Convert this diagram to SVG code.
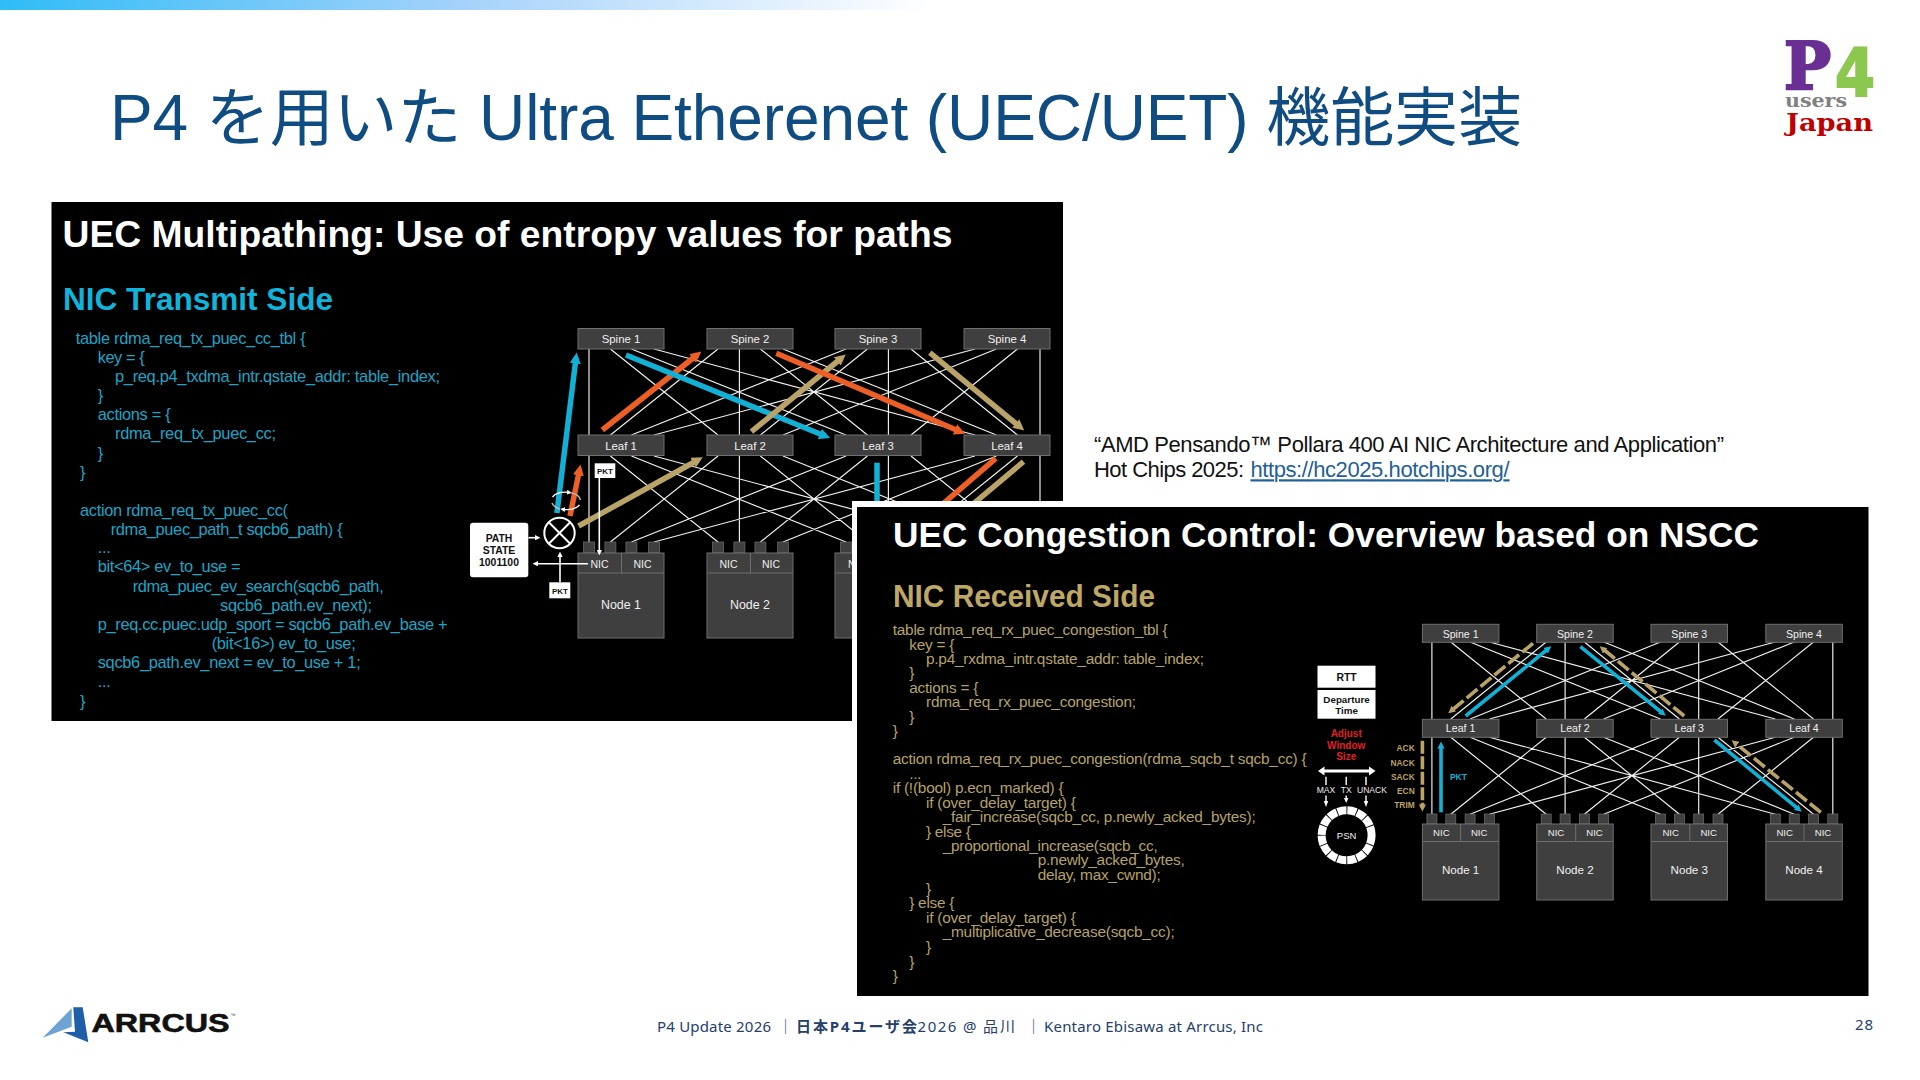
<svg xmlns="http://www.w3.org/2000/svg" width="1920" height="1080" viewBox="0 0 1920 1080">
<style>
text{font-family:"Liberation Sans",Arial,"Noto Sans CJK JP",sans-serif}
.h{fill:#fff;font-weight:700}
.cy{fill:#1ba6c6;font-size:16.4px}
.ta{fill:#b5a26a;font-size:15.4px}
.box{fill:#3f3f3f;stroke:#6f6f6f;stroke-width:1}
.port{fill:#3f3f3f;stroke:#6f6f6f;stroke-width:.7}
.lb{fill:#f0f0f0;text-anchor:middle}
.s1{font-size:11.4px}.n1{font-size:12.4px}.c1{font-size:10.5px}
.s2{font-size:10.6px}.n2{font-size:11.6px}.c2{font-size:9.6px}
.wb{fill:#fff}
.bk{fill:#111;font-weight:700;text-anchor:middle}
.net{fill:none;stroke:#f2f2f2;stroke-width:1.15}
.ac{stroke:#12b0d4;stroke-width:5.5;fill:none}
.ao{stroke:#ee5f25;stroke-width:5.5;fill:none}
.at{stroke:#b9a368;stroke-width:5.5;fill:none}
.thin{stroke-width:3.6px}
.wl{stroke:#fff;stroke-width:1.6;fill:none}
.wa{stroke:#fff;stroke-width:1.4;fill:none}
.lt{fill:#b9a368;font-size:8.4px;font-weight:700;text-anchor:end}
.ft{fill:#24406b;font-family:"Noto Sans","Noto Sans CJK JP",sans-serif;font-size:15px}
.rd{fill:#e0202a;font-size:10px;font-weight:700;text-anchor:middle}
.wt{fill:#eee;font-size:8.6px;text-anchor:middle}
</style>
<defs>
<linearGradient id="bar" x1="0" x2="1" y1="0" y2="0"><stop offset="0" stop-color="#2fbcf6"/><stop offset=".5" stop-color="#a5d2fb"/><stop offset="1" stop-color="#fff"/></linearGradient>
<marker id="mc" viewBox="0 0 10 10" refX="5" refY="5" markerWidth="2" markerHeight="2" orient="auto"><path d="M0 0L10 5L0 10Z" fill="#12b0d4"/></marker>
<marker id="mo" viewBox="0 0 10 10" refX="5" refY="5" markerWidth="2" markerHeight="2" orient="auto"><path d="M0 0L10 5L0 10Z" fill="#ee5f25"/></marker>
<marker id="mt" viewBox="0 0 10 10" refX="5" refY="5" markerWidth="2" markerHeight="2" orient="auto"><path d="M0 0L10 5L0 10Z" fill="#b9a368"/></marker>
<marker id="mw" viewBox="0 0 10 10" refX="2" refY="5" markerWidth="3.4" markerHeight="3.4" orient="auto"><path d="M0 0L10 5L0 10Z" fill="#fff"/></marker>
<path id="meshL" d="M589 0V86M610.4 0L718 86M631.4 0L846 86M654 0L975 86M718 0L610.4 86M739.4 0V86M760.4 0L867.4 86M783 0L996.4 86M846 0L631.4 86M867.4 0L760.4 86M888.4 0V86M911 0L1017.4 86M975 0L654 86M996.4 0L783 86M1017.4 0L911 86M1040 0V86"/>
<path id="meshR" d="M1431.9 0V77M1450.8 0L1546.2 77M1470.1 0L1660.5 77M1489.4 0L1775.3 77M1546.2 0L1450.8 77M1565.1 0V77M1584.4 0L1679.4 77M1603.7 0L1794.2 77M1660.5 0L1470.1 77M1679.4 0L1584.4 77M1698.7 0V77M1718 0L1813.5 77M1775.3 0L1489.4 77M1794.2 0L1603.7 77M1813.5 0L1718 77M1832.8 0V77"/>
<g id="portsL"><rect class="port" x="0" y="0" width="11" height="11"/><rect class="port" x="21.4" y="0" width="11" height="11"/><rect class="port" x="42.4" y="0" width="11" height="11"/><rect class="port" x="65" y="0" width="11" height="11"/></g>
<g id="portsR"><rect class="port" x="0" y="0" width="10" height="10"/><rect class="port" x="18.9" y="0" width="10" height="10"/><rect class="port" x="38.2" y="0" width="10" height="10"/><rect class="port" x="57.5" y="0" width="10" height="10"/></g>
</defs>
<rect width="1920" height="1080" fill="#fff"/>
<rect id="topbar" x="0" y="0" width="930" height="10" fill="url(#bar)"/>
<text id="title" x="110" y="140" font-size="64" fill="#0f4c81" textLength="1412">P4 を用いた Ultra Etherenet (UEC/UET) 機能実装</text>

<g id="logo-p4">
<text x="1784" y="89" font-size="66" font-weight="700" fill="#6a2f92" stroke="#6a2f92" stroke-width="2.5" style="font-family:'DejaVu Serif',serif" textLength="47" lengthAdjust="spacingAndGlyphs">P</text>
<text x="1835" y="96" font-size="66" font-weight="700" fill="#8cc850" stroke="#8cc850" stroke-width="2" style="font-family:'DejaVu Sans',sans-serif" textLength="40" lengthAdjust="spacingAndGlyphs">4</text>
<text x="1785" y="106.5" font-size="19" font-weight="700" fill="#808080" style="font-family:'DejaVu Serif',serif" textLength="62" lengthAdjust="spacingAndGlyphs">users</text>
<text x="1786" y="131" font-size="24" font-weight="700" fill="#c00000" style="font-family:'DejaVu Serif',serif" textLength="87" lengthAdjust="spacingAndGlyphs">Japan</text>
</g>

<g id="panel-tx">
<rect x="51.5" y="202" width="1011.5" height="519" fill="#000"/>
<text class="h" x="62.5" y="247" font-size="37.5" textLength="890" lengthAdjust="spacingAndGlyphs">UEC Multipathing: Use of entropy values for paths</text>
<text x="63" y="310" font-size="31.5" font-weight="700" fill="#10b4da" textLength="270" lengthAdjust="spacingAndGlyphs">NIC Transmit Side</text>
<g class="code">
<text class="cy" x="75.7" y="344" textLength="230">table rdma_req_tx_puec_cc_tbl {</text>
<text class="cy" x="97.7" y="363" textLength="47">key = {</text>
<text class="cy" x="115" y="382" textLength="325">p_req.p4_txdma_intr.qstate_addr: table_index;</text>
<text class="cy" x="97.7" y="401">}</text>
<text class="cy" x="97.7" y="420" textLength="73">actions = {</text>
<text class="cy" x="115" y="439" textLength="161">rdma_req_tx_puec_cc;</text>
<text class="cy" x="97.7" y="459">}</text>
<text class="cy" x="80" y="478">}</text>
<text class="cy" x="80" y="515.5" textLength="208">action rdma_req_tx_puec_cc(</text>
<text class="cy" x="110.7" y="534.5" textLength="232">rdma_puec_path_t sqcb6_path) {</text>
<text class="cy" x="97.7" y="553" textLength="13">...</text>
<text class="cy" x="97.7" y="572" textLength="143">bit&lt;64&gt; ev_to_use =</text>
<text class="cy" x="132.7" y="591.5" textLength="251">rdma_puec_ev_search(sqcb6_path,</text>
<text class="cy" x="220" y="610.5" textLength="152">sqcb6_path.ev_next);</text>
<text class="cy" x="97.7" y="630" textLength="350">p_req.cc.puec.udp_sport = sqcb6_path.ev_base +</text>
<text class="cy" x="211.7" y="649" textLength="144">(bit&lt;16&gt;) ev_to_use;</text>
<text class="cy" x="97.7" y="667.5" textLength="263">sqcb6_path.ev_next = ev_to_use + 1;</text>
<text class="cy" x="97.7" y="687" textLength="13">...</text>
<text class="cy" x="80" y="706.5">}</text>
</g>
</g>

<g id="connectors-tx">
<use href="#meshL" y="349" class="net"/>
<use href="#meshL" y="456" class="net"/>
</g>
<g id="spine-tx-1"><rect class="box" x="578" y="328.5" width="86" height="20.5"/><text class="lb s1" x="621" y="343">Spine 1</text></g>
<g id="spine-tx-2"><rect class="box" x="707" y="328.5" width="86" height="20.5"/><text class="lb s1" x="750" y="343">Spine 2</text></g>
<g id="spine-tx-3"><rect class="box" x="835" y="328.5" width="86" height="20.5"/><text class="lb s1" x="878" y="343">Spine 3</text></g>
<g id="spine-tx-4"><rect class="box" x="964" y="328.5" width="86" height="20.5"/><text class="lb s1" x="1007" y="343">Spine 4</text></g>
<g id="leaf-tx-1"><rect class="box" x="578" y="435" width="86" height="20.5"/><text class="lb s1" x="621" y="449.5">Leaf 1</text></g>
<g id="leaf-tx-2"><rect class="box" x="707" y="435" width="86" height="20.5"/><text class="lb s1" x="750" y="449.5">Leaf 2</text></g>
<g id="leaf-tx-3"><rect class="box" x="835" y="435" width="86" height="20.5"/><text class="lb s1" x="878" y="449.5">Leaf 3</text></g>
<g id="leaf-tx-4"><rect class="box" x="964" y="435" width="86" height="20.5"/><text class="lb s1" x="1007" y="449.5">Leaf 4</text></g>
<g id="node-tx-1"><use href="#portsL" x="583.5" y="542"/><rect class="box" x="578" y="553" width="86" height="85"/><path class="box" d="M578 573H664M621.5 553V573"/><text class="lb c1" x="599.5" y="567.5">NIC</text><text class="lb c1" x="642.5" y="567.5">NIC</text><text class="lb n1" x="621" y="609">Node 1</text></g>
<g id="node-tx-2"><use href="#portsL" x="712.5" y="542"/><rect class="box" x="707" y="553" width="86" height="85"/><path class="box" d="M707 573H793M750.5 553V573"/><text class="lb c1" x="728.5" y="567.5">NIC</text><text class="lb c1" x="771" y="567.5">NIC</text><text class="lb n1" x="750" y="609">Node 2</text></g>
<g id="node-tx-3"><use href="#portsL" x="840.5" y="542"/><rect class="box" x="835" y="553" width="86" height="85"/><path class="box" d="M835 573H921"/><text class="lb c1" x="857" y="567.5">NIC</text></g>

<g id="arrows-tx">
<path class="ac" d="M556.9 513L576 358" marker-end="url(#mc)"/>
<path class="ao" d="M570 516L579.5 470" marker-end="url(#mo)"/>
<path class="ao" d="M602.3 430L697 355" marker-end="url(#mo)"/>
<path class="ac" d="M626 355L825 436" marker-end="url(#mc)"/>
<path class="at" d="M751.4 431.7L841.5 358" marker-end="url(#mt)"/>
<path class="ao" d="M776.3 353.3L960 431.5" marker-end="url(#mo)"/>
<path class="at" d="M929.8 352.7L1020 427" marker-end="url(#mt)"/>
<path class="at" d="M578.6 526L698 460" marker-end="url(#mt)"/>
<path class="ac" d="M877 462.7V510"/>
<path class="ao" d="M995.8 458.3L930 515"/>
<path class="at" d="M1023.5 461.7L960 515"/>
<path class="wa" d="M552.5 497A14.7 8.7 0 0 1 568 492.3" marker-end="url(#mw)"/>
<path class="wa" d="M579.5 505A14.7 8.7 0 0 1 564 509.5" marker-end="url(#mw)"/>
<path d="M570 492.6A14.7 8.7 0 0 1 580.5 500M552 503A14.7 8.7 0 0 0 560 509" fill="none" stroke="#bbb" stroke-width="1.4"/>
<path class="wl" d="M528.5 537.7H536" marker-end="url(#mw)"/>
<path class="wl" d="M588 563.7H537" marker-end="url(#mw)"/>
<path class="wl" d="M560 582V556" marker-end="url(#mw)"/>
<path class="wl" d="M599.3 478V551" marker-end="url(#mw)"/>
</g>
<g id="mixer"><circle cx="559.5" cy="533" r="15.2" fill="#000" stroke="#fff" stroke-width="2"/><path d="M548.8 522.3L570.2 543.7M570.2 522.3L548.8 543.7" stroke="#fff" stroke-width="2"/></g>
<g id="path-state"><rect class="wb" x="470" y="522.7" width="58.3" height="54.6" rx="3"/><text class="bk" font-size="10.4" x="499" y="541.5">PATH</text><text class="bk" font-size="10.4" x="499" y="554">STATE</text><text class="bk" font-size="10.4" x="499" y="566.3">1001100</text></g>
<g id="pkt-in"><rect class="wb" x="549.3" y="582.3" width="21" height="16"/><text class="bk" font-size="8" x="560" y="593.5">PKT</text></g>
<g id="pkt-out"><rect class="wb" x="594.7" y="463.3" width="20.6" height="14.7"/><text class="bk" font-size="8" x="605" y="473.7">PKT</text></g>

<g id="citation">
<text x="1094" y="451.7" font-size="22" fill="#111" textLength="630">“AMD Pensando™ Pollara 400 AI NIC Architecture and Application”</text>
<text x="1094" y="477.3" font-size="22" fill="#111" textLength="150">Hot Chips 2025:</text>
<text x="1250.5" y="477.3" font-size="22" fill="#1f6096" text-decoration="underline" textLength="259">https://hc2025.hotchips.org/</text>
</g>

<g id="panel-cc">
<rect x="852" y="501" width="1024" height="500" fill="#fff"/>
<rect x="857" y="507" width="1011.5" height="489" fill="#000"/>
<text class="h" x="893" y="546.7" font-size="35.5" textLength="866" lengthAdjust="spacingAndGlyphs">UEC Congestion Control: Overview based on NSCC</text>
<text x="893" y="606.7" font-size="30.5" font-weight="700" fill="#bfa765" textLength="262" lengthAdjust="spacingAndGlyphs">NIC Received Side</text>
<g class="code">
<text class="ta" x="892.7" y="635" textLength="275">table rdma_req_rx_puec_congestion_tbl {</text>
<text class="ta" x="909.3" y="649.7" textLength="45">key = {</text>
<text class="ta" x="926" y="664" textLength="278">p.p4_rxdma_intr.qstate_addr: table_index;</text>
<text class="ta" x="909.3" y="678">}</text>
<text class="ta" x="909.3" y="692.7" textLength="69">actions = {</text>
<text class="ta" x="926" y="707" textLength="210">rdma_req_rx_puec_congestion;</text>
<text class="ta" x="909.3" y="721.7">}</text>
<text class="ta" x="892.7" y="736">}</text>
<text class="ta" x="892.7" y="764.3" textLength="414">action rdma_req_rx_puec_congestion(rdma_sqcb_t sqcb_cc) {</text>
<text class="ta" x="909.3" y="778.5" textLength="12">...</text>
<text class="ta" x="892.7" y="793" textLength="171">if (!(bool) p.ecn_marked) {</text>
<text class="ta" x="926" y="807.7" textLength="150">if (over_delay_target) {</text>
<text class="ta" x="942.7" y="822" textLength="313">_fair_increase(sqcb_cc, p.newly_acked_bytes);</text>
<text class="ta" x="926" y="836.7" textLength="45">} else {</text>
<text class="ta" x="942.7" y="851" textLength="215">_proportional_increase(sqcb_cc,</text>
<text class="ta" x="1037.7" y="865.3" textLength="147">p.newly_acked_bytes,</text>
<text class="ta" x="1037.7" y="879.7" textLength="123">delay, max_cwnd);</text>
<text class="ta" x="926" y="894.3">}</text>
<text class="ta" x="909.3" y="908.3" textLength="45">} else {</text>
<text class="ta" x="926" y="923" textLength="150">if (over_delay_target) {</text>
<text class="ta" x="942.7" y="937.3" textLength="232">_multiplicative_decrease(sqcb_cc);</text>
<text class="ta" x="926" y="952">}</text>
<text class="ta" x="909.3" y="966.7">}</text>
<text class="ta" x="892.7" y="981">}</text>
</g>
</g>

<g id="connectors-cc">
<use href="#meshR" y="642" class="net"/>
<use href="#meshR" y="737.2" class="net"/>
</g>
<g id="spine-cc-1"><rect class="box" x="1422.4" y="624.3" width="76.5" height="18"/><text class="lb s2" x="1460.6" y="637.5">Spine 1</text></g>
<g id="spine-cc-2"><rect class="box" x="1536.7" y="624.3" width="76.5" height="18"/><text class="lb s2" x="1575" y="637.5">Spine 2</text></g>
<g id="spine-cc-3"><rect class="box" x="1651" y="624.3" width="76.5" height="18"/><text class="lb s2" x="1689.3" y="637.5">Spine 3</text></g>
<g id="spine-cc-4"><rect class="box" x="1765.8" y="624.3" width="76.5" height="18"/><text class="lb s2" x="1804" y="637.5">Spine 4</text></g>
<g id="leaf-cc-1"><rect class="box" x="1422.4" y="719.3" width="76.5" height="18"/><text class="lb s2" x="1460.6" y="732.3">Leaf 1</text></g>
<g id="leaf-cc-2"><rect class="box" x="1536.7" y="719.3" width="76.5" height="18"/><text class="lb s2" x="1575" y="732.3">Leaf 2</text></g>
<g id="leaf-cc-3"><rect class="box" x="1651" y="719.3" width="76.5" height="18"/><text class="lb s2" x="1689.3" y="732.3">Leaf 3</text></g>
<g id="leaf-cc-4"><rect class="box" x="1765.8" y="719.3" width="76.5" height="18"/><text class="lb s2" x="1804" y="732.3">Leaf 4</text></g>
<g id="node-cc-1"><use href="#portsR" x="1426.9" y="814"/><rect class="box" x="1422.4" y="824" width="76.5" height="76"/><path class="box" d="M1422.4 841.5H1498.9M1460.6 824V841.5"/><text class="lb c2" x="1441.3" y="836">NIC</text><text class="lb c2" x="1479.2" y="836">NIC</text><text class="lb n2" x="1460.6" y="874">Node 1</text></g>
<g id="node-cc-2"><use href="#portsR" x="1541.2" y="814"/><rect class="box" x="1536.7" y="824" width="76.5" height="76"/><path class="box" d="M1536.7 841.5H1613.2M1575.7 824V841.5"/><text class="lb c2" x="1556" y="836">NIC</text><text class="lb c2" x="1594.5" y="836">NIC</text><text class="lb n2" x="1575" y="874">Node 2</text></g>
<g id="node-cc-3"><use href="#portsR" x="1655.5" y="814"/><rect class="box" x="1651" y="824" width="76.5" height="76"/><path class="box" d="M1651 841.5H1727.5M1689.8 824V841.5"/><text class="lb c2" x="1670.7" y="836">NIC</text><text class="lb c2" x="1708.7" y="836">NIC</text><text class="lb n2" x="1689.3" y="874">Node 3</text></g>
<g id="node-cc-4"><use href="#portsR" x="1770.3" y="814"/><rect class="box" x="1765.8" y="824" width="76.5" height="76"/><path class="box" d="M1765.8 841.5H1842.3M1804 824V841.5"/><text class="lb c2" x="1784.7" y="836">NIC</text><text class="lb c2" x="1823" y="836">NIC</text><text class="lb n2" x="1804" y="874">Node 4</text></g>

<g id="arrows-cc">
<path class="at thin" stroke-dasharray="14 4" d="M1533 643.3L1451 711" marker-end="url(#mt)"/>
<path class="ac thin" d="M1465.7 716L1548.5 648.5" marker-end="url(#mc)"/>
<path class="ac thin" d="M1580.4 646.7L1663 713.5" marker-end="url(#mc)"/>
<path class="at thin" stroke-dasharray="14 4" d="M1684.2 716L1602.5 648.5" marker-end="url(#mt)"/>
<path class="ac thin" d="M1714.4 740L1799 809.5" marker-end="url(#mc)"/>
<path class="at thin" stroke-dasharray="14 4" d="M1820.8 812.3L1734.5 742.5" marker-end="url(#mt)"/>
<path class="ac thin" d="M1441 812.3V745" marker-end="url(#mc)"/>
<path class="at thin" stroke-dasharray="13 2.5" d="M1422.4 740.7V808" marker-end="url(#mt)"/>
</g>
<g id="feedback-labels">
<text class="lt" x="1414.7" y="751.2">ACK</text><text class="lt" x="1414.7" y="765.6">NACK</text><text class="lt" x="1414.7" y="779.6">SACK</text><text class="lt" x="1414.7" y="794.2">ECN</text><text class="lt" x="1414.7" y="808">TRIM</text>
<text x="1458.4" y="779.7" font-size="8.5" font-weight="700" fill="#12b0d4" text-anchor="middle">PKT</text>
</g>
<g id="rtt"><rect class="wb" x="1317.5" y="665.7" width="58" height="22"/><text class="bk" font-size="10.4" x="1346.5" y="680.5">RTT</text></g>
<g id="departure"><rect class="wb" x="1317.5" y="690" width="58" height="28.7"/><text class="bk" font-size="9.8" x="1346.5" y="702.5">Departure</text><text class="bk" font-size="9.8" x="1346.5" y="714.2">Time</text></g>
<g id="window">
<text class="rd" x="1346.2" y="736.8">Adjust</text><text class="rd" x="1346.2" y="748.5">Window</text><text class="rd" x="1346.2" y="760.2">Size</text>
<path d="M1323 771H1370.5" stroke="#fff" stroke-width="3"/><path d="M1318 771L1324.5 766.5V775.5ZM1375.5 771L1369 766.5V775.5Z" fill="#fff"/>
<text class="wt" x="1326" y="793.3">MAX</text><text class="wt" x="1346.2" y="793.3">TX</text><text class="wt" x="1372" y="793.3">UNACK</text>
<path class="wa" d="M1326 776.7V785M1346.2 776.7V785M1366 776.7V785M1326 795.5V802M1366 795.5V802M1346.2 795.5V799"/>
<path d="M1326 807L1323.8 801H1328.2ZM1366 807L1363.8 801H1368.2ZM1346.2 803L1344 798H1348.4Z" fill="#fff"/>
</g>
<g id="psn"><circle cx="1346.6" cy="835.3" r="25" fill="none" stroke="#fff" stroke-width="8" stroke-dasharray="8.9 .92"/><text class="lb" font-size="9.5" x="1346.6" y="838.8">PSN</text></g>

<g id="logo-arrcus">
<path d="M73.3 1007.3H82.7L88.3 1042.3L63.3 1032.3L75 1031.7Z" fill="#1f5ea8"/>
<path d="M71.7 1008.3L42.7 1037.7L71.7 1026.7Z" fill="#6fa3d3"/>
<text x="91.5" y="1031.7" font-size="25" font-weight="700" fill="#111" stroke="#111" stroke-width=".6" textLength="138" lengthAdjust="spacingAndGlyphs">ARRCUS</text>
<text x="230.5" y="1017" font-size="5" fill="#333">™</text>
</g>
<g id="footer">
<text class="ft" x="657" y="1032" textLength="114">P4 Update 2026</text>
<text class="ft" x="778" y="1032">│</text>
<text class="ft" x="796" y="1032" font-weight="700" textLength="121">日本P4ユーザ会</text>
<text class="ft" x="917.6" y="1032" textLength="59">2026 @</text>
<text class="ft" x="983" y="1032" textLength="32">品川</text>
<text class="ft" x="1026" y="1032">│</text>
<text class="ft" x="1044" y="1032" textLength="219">Kentaro Ebisawa at Arrcus, Inc</text>
<text class="ft" x="1855" y="1030" textLength="18">28</text>
</g>
</svg>
